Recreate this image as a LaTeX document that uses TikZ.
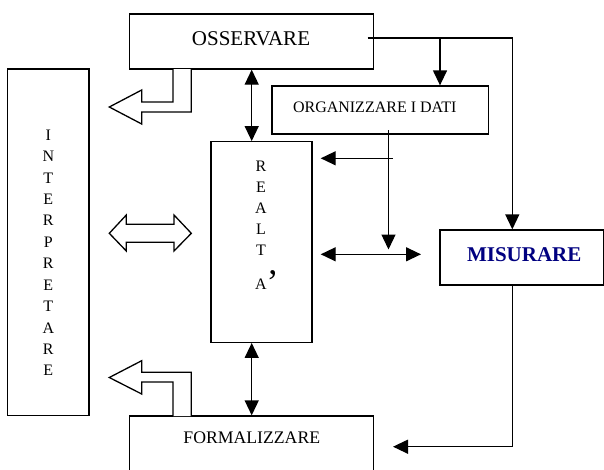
\documentclass[tikz,border=0pt]{standalone}
\usepackage{fontspec}
\setmainfont{Liberation Serif}
\usetikzlibrary{arrows.meta,calc}
\definecolor{misblue}{RGB}{0,0,128}
\tikzset{
  tri/.tip={Triangle[length=15pt,width=14pt]},
  box/.style={draw, line width=1.3pt, inner sep=0pt},
  conn/.style={line width=1.3pt, line join=miter},
  fat/.style={draw, line width=1.3pt, line join=miter, fill=white},
  lbl/.style={inner sep=0pt, anchor=base},
  col/.style={inner sep=0pt, align=center},
}
\begin{document}
\begin{tikzpicture}[x=1pt,y=-1pt]
\useasboundingbox (0,0) rectangle (604,469);
% boxes
\node[box, minimum width=244pt, minimum height=55pt] (oss) at (251.7,41.5) {};
\node[box, minimum width=216.3pt, minimum height=48pt] (org) at (380.15,110) {};
\node[box, minimum width=81.3pt, minimum height=346.7pt] (interp) at (48.35,242.35) {};
\node[box, minimum width=101pt, minimum height=200.6pt] (realta) at (261.5,242) {};
\node[box, minimum width=163.3pt, minimum height=55pt] (mis) at (521.65,257.5) {};
\node[box, minimum width=243.8pt, minimum height=64pt] (form) at (251.7,448) {};
% texts
\node[lbl, font=\fontsize{21}{25}\selectfont] (osst) at (251,45) {OSSERVARE};
\node[lbl, font=\fontsize{16}{19}\selectfont] (orgt) at (374.8,112.3) {ORGANIZZARE I DATI};
\node[lbl, font=\fontsize{21}{25}\selectfont\bfseries, text=misblue] (mist) at (524.2,261.7) {MISURARE};
\node[lbl, font=\fontsize{17.7}{21}\selectfont] (formt) at (251.8,443.7) {FORMALIZZARE};
\node[col, font=\fontsize{16}{21.43}\selectfont] (interpt) at (48.3,252.85)
  {I\\N\\T\\E\\R\\P\\R\\E\\T\\A\\R\\E};
\node[col, font=\fontsize{16}{21}\selectfont] (realtat) at (261,225)
  {R\\E\\A\\L\\T\\[13pt]A};
\node[inner sep=0pt, anchor=base west, font=\fontsize{36}{40}\selectfont] (apos) at (266.5,294) {’};
% connectors
\coordinate (ossout) at (367.7,38);
\coordinate (ne) at (512.3,38);
\draw[conn,-tri] (ossout) -- (ne) -- (ne |- mis.north);
\coordinate (orgtap) at (440,38);
\draw[conn,-tri] (orgtap) -- (orgtap |- org.north);
\draw[conn,tri-tri] (oss.south) -- (oss.south |- realta.north);
\draw[conn,tri-tri] (form.north |- realta.south) -- (form.north);
\coordinate (orgdown) at (388.5,130);
\coordinate (orgend) at (388.5,249.5);
\draw[conn,-tri] (orgdown) -- (orgend);
\coordinate (rtap) at (392.7,158.3);
\coordinate (rtip) at (320.7,158.3);
\draw[conn,-tri] (rtap) -- (rtip);
\coordinate (dl) at (320.7,254.3);
\coordinate (dr) at (421,254.3);
\draw[conn,tri-tri] (dl) -- (dr);
\coordinate (mcorner) at (512.3,446.7);
\coordinate (ftip) at (393,446.7);
\draw[conn,-tri] (mis.south -| mcorner) -- (mcorner) -- (ftip);
% block arrows
\draw[fat] (173,69) -- (173,102) -- (141.7,102) -- (141.7,90) -- (109.3,107)
  -- (141.7,124) -- (141.7,112) -- (191.3,112) -- (191.3,69);
\draw[fat] (191.3,416) -- (191.3,372.3) -- (141.7,372.3) -- (141.7,360.7) -- (109.3,377.5)
  -- (141.7,394) -- (141.7,382) -- (173,382) -- (173,416);
\draw[fat] (109.3,233.3) -- (126.3,215) -- (126.3,224.3) -- (174,224.3) -- (174,215)
  -- (191.3,233.3) -- (174,251) -- (174,242.3) -- (126.3,242.3) -- (126.3,251) -- cycle;
\end{tikzpicture}
\end{document}
